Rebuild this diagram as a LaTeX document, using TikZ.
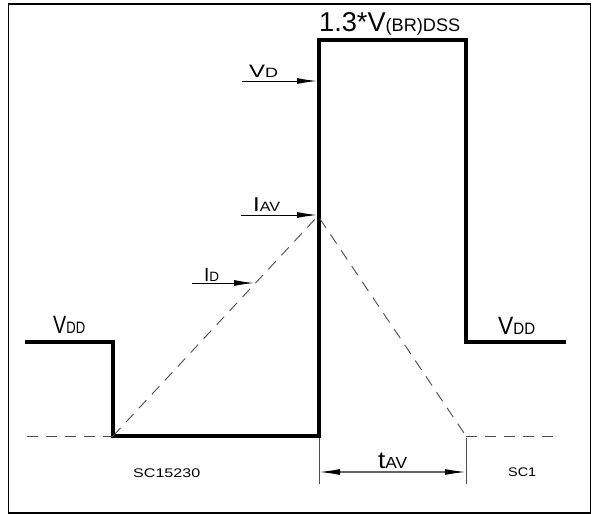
\documentclass[tikz,border=0pt]{standalone}
\usepackage{fontspec}
\setmainfont{Liberation Sans}
\usetikzlibrary{arrows.meta}
\newcommand{\fs}[1]{\fontsize{#1}{#1}\selectfont}
\begin{document}
\begin{tikzpicture}[x=1pt,y=-1pt,
  wave/.style={line width=3.6pt,line join=miter,line cap=rect},
  dashln/.style={line width=0.9pt,draw=black!70,dash pattern=on 11pt off 8pt},
  ptr/.style={line width=1pt,-{Latex[length=20pt,width=6pt]}},
  dimln/.style={line width=1.3pt,draw=black!60,{Latex[length=21pt,width=6pt,color=black]}-{Latex[length=21pt,width=6pt,color=black]}},
  extln/.style={line width=0.7pt,draw=black!70},
  lbl/.style={inner sep=0pt,anchor=base west}]
\useasboundingbox (0,0) rectangle (592,514);
\draw[line width=1.6pt] (8.3,3.7) rectangle (590.5,513);
% waveform corners
\coordinate (a0) at (27,342);
\coordinate (a1) at (113,342);
\coordinate (a2) at (113,436);
\coordinate (a3) at (319,436);
\coordinate (a4) at (319,40);
\coordinate (a5) at (466,40);
\coordinate (a6) at (466,342);
\coordinate (a7) at (564,342);
\coordinate (peak) at (318,216);
\coordinate (bl) at (27,436);
\coordinate (br) at (466,436);
\coordinate (brend) at (560,436);
\draw[wave] (a0) -- (a1) -- (a2) -- (a3) -- (a4) -- (a5) -- (a6) -- (a7);
\draw[dashln] (bl) -- (a2);
\draw[dashln] (br) -- (brend);
\draw[dashln] (a2) -- (peak) -- (br);
% pointer arrows
\coordinate (vd0) at (242,81);  \coordinate (vd1) at (317,81);
\coordinate (ia0) at (241,215); \coordinate (ia1) at (317,215);
\coordinate (id0) at (192,283); \coordinate (id1) at (254,283);
\draw[ptr] (vd0) -- (vd1);
\draw[ptr] (ia0) -- (ia1);
\draw[ptr] (id0) -- (id1);
% dimension
\coordinate (e1a) at (319,438); \coordinate (e1b) at (319,484);
\coordinate (e2a) at (466,438); \coordinate (e2b) at (466,484);
\coordinate (d1) at (319,472); \coordinate (d2) at (466,472);
\draw[extln] (e1a) -- (e1b);
\draw[extln] (e2a) -- (e2b);
\draw[dimln] (d1) -- (d2);
% labels
\node[lbl] (title) at (319,31) {\resizebox{141pt}{!}{\fs{24}1.3*V\fs{16}(BR)DSS}};
\node[lbl] (vddl) at (53,333) {\resizebox{32pt}{\height}{\fs{25}V\fs{16.5}DD}};
\node[lbl] (vddr) at (498,334) {\resizebox{37pt}{\height}{\fs{25}V\fs{16.5}DD}};
\node[lbl] (vd) at (249,77) {\resizebox{29pt}{\height}{\fs{18}V\fs{13.5}D}};
\node[lbl] (iav) at (253,211) {\resizebox{27pt}{\height}{\fs{20}I\fs{13.5}AV}};
\node[lbl] (idl) at (204,281) {\resizebox{15pt}{\height}{\fs{19}I\fs{13.5}D}};
\node[lbl] (tav) at (378,468) {\resizebox{29pt}{\height}{\fs{24}t\fs{16}AV}};
\node[lbl] (sc1) at (133,477) {\resizebox{67pt}{\height}{\fs{12.5}SC15230}};
\node[lbl] (sc2) at (508,476) {\resizebox{28pt}{\height}{\fs{12.5}SC1}};
\end{tikzpicture}
\end{document}
